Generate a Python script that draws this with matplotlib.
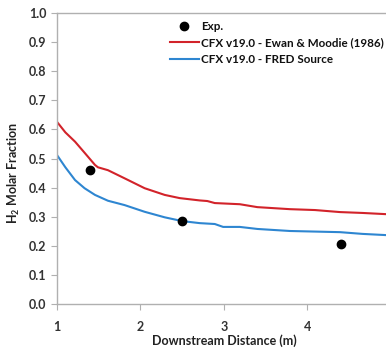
import matplotlib
matplotlib.use('Agg')
import matplotlib.pyplot as plt

# values
ewan_x = [1.0, 1.1, 1.216, 1.33, 1.455, 1.49, 1.61, 1.81, 2.05, 2.29, 2.47, 2.71, 2.80, 2.89,
          3.19, 3.40, 3.79, 4.09, 4.39, 4.66, 5.0]
ewan_y = [0.626, 0.59, 0.558, 0.52, 0.478, 0.47, 0.46, 0.432, 0.398, 0.375, 0.364, 0.356, 0.354,
          0.347, 0.343, 0.333, 0.326, 0.323, 0.316, 0.313, 0.308]

fred_x = [1.0, 1.1, 1.216, 1.33, 1.455, 1.61, 1.81, 2.05, 2.29, 2.5, 2.71, 2.89, 2.99, 3.19,
          3.40, 3.79, 4.39, 4.66, 5.0]
fred_y = [0.512, 0.47, 0.426, 0.398, 0.375, 0.355, 0.34, 0.317, 0.298, 0.285, 0.278, 0.275,
          0.265, 0.265, 0.258, 0.251, 0.247, 0.241, 0.236]

exp_x = [1.4, 2.5, 4.4]
exp_y = [0.46, 0.287, 0.207]

xticks = [1, 2, 3, 4, 5]
yticks = [0.0, 0.1, 0.2, 0.3, 0.4, 0.5, 0.6, 0.7, 0.8, 0.9, 1.0]

plt.rcParams['font.family'] = ['Lato', 'DejaVu Sans']
plt.rcParams['font.weight'] = 'bold'
plt.rcParams['mathtext.fontset'] = 'custom'
plt.rcParams['mathtext.bf'] = 'Lato:bold'
plt.rcParams['mathtext.rm'] = 'Lato:bold'

fig = plt.figure(figsize=(3.86, 3.48), dpi=100)
ax = fig.add_axes([0.1477, 0.1264, 0.865, 0.836])

ax.plot(exp_x, exp_y, 'o', color='black', markersize=6, label='Exp.', zorder=5)
ax.plot(ewan_x, ewan_y, color='#d2232a', linewidth=1.5, label='CFX v19.0 - Ewan & Moodie (1986)')
ax.plot(fred_x, fred_y, color='#2e86d1', linewidth=1.5, label='CFX v19.0 - FRED Source')

ax.set_xlim(1, 5)
ax.set_ylim(0, 1.0)
ax.set_xticks(xticks)
ax.set_yticks(yticks)
ax.set_yticklabels(['%.1f' % v for v in yticks])

for s in ['left', 'bottom', 'top']:
    ax.spines[s].set_color('#b0b0b0')
    ax.spines[s].set_linewidth(1.0)
ax.spines['right'].set_visible(False)
ax.tick_params(axis='both', colors='#b0b0b0', labelcolor='#333333', labelsize=9, length=4,
               direction='out')
ax.tick_params(axis='x', pad=8)
for lab in ax.get_xticklabels() + ax.get_yticklabels():
    lab.set_fontweight('bold')

ax.set_xlabel('Downstream Distance (m)', fontsize=9, fontweight='bold', color='#222222')
ax.xaxis.set_label_coords(0.5, -0.104)
ax.set_ylabel('H$_2$ Molar Fraction', fontsize=9, fontweight='bold', color='#222222')
ax.yaxis.set_label_coords(-0.105, 0.45)

leg = ax.legend(loc='upper left', bbox_to_anchor=(0.315, 1.0), frameon=False, fontsize=8.4,
                handlelength=2.5, handletextpad=0.15, labelspacing=0.5, borderaxespad=0.25)
for t in leg.get_texts():
    t.set_color('#111111')
    t.set_fontweight('bold')

fig.savefig('out.png', dpi=100)
